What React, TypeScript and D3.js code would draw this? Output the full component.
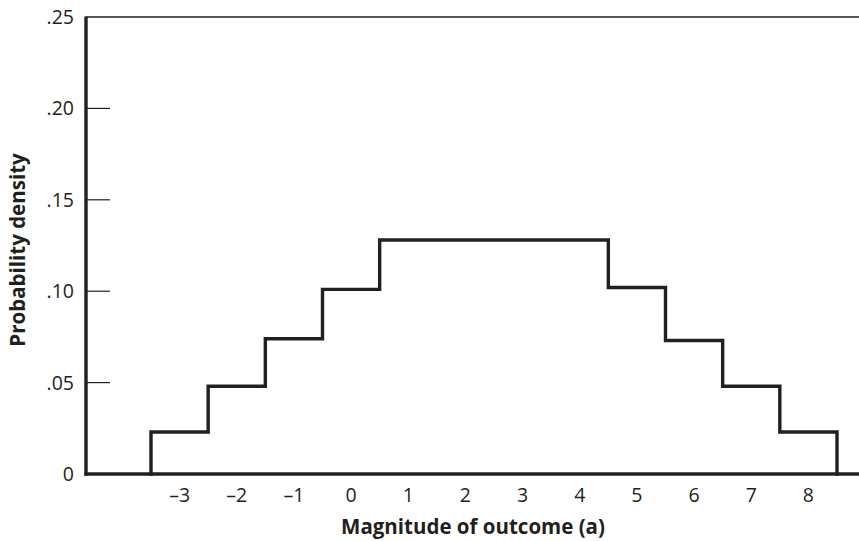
import * as d3 from "d3";

const bins = [-3, -2, -1, 0, 1, 2, 3, 4, 5, 6, 7, 8];
const densities = [0.023, 0.048, 0.074, 0.101, 0.128, 0.128, 0.128, 0.128, 0.102, 0.073, 0.048, 0.023];
const yTicks = [0, 0.05, 0.1, 0.15, 0.2, 0.25];
const yTickLabels = ["0", ".05", ".10", ".15", ".20", ".25"];

const width = 859;
const height = 541;
const axisLeft = 86;
const axisRight = 859;
const ink = "#231f20";
const font = "'Open Sans', 'Noto Sans', sans-serif";

function tickText(v: number) {
  return v < 0 ? `\u2013${Math.abs(v)}` : String(v);
}

export default function App() {
  const x = d3.scaleLinear().domain([-3.5, 8.5]).range([151, 837]);
  const y = d3.scaleLinear().domain([0, 0.25]).range([474, 17]);

  const points: [number, number][] = [
    [bins[0] - 0.5, 0],
    ...bins.map((b, i) => [b - 0.5, densities[i]] as [number, number]),
    [bins[bins.length - 1] + 0.5, densities[densities.length - 1]],
    [bins[bins.length - 1] + 0.5, 0],
  ];
  const step = d3
    .line<[number, number]>()
    .x((d) => x(d[0]))
    .y((d) => y(d[1]))
    .curve(d3.curveStepAfter)(points);

  const y0 = y(0);
  const yTop = y(0.25);

  return (
    <svg width={width} height={height} style={{ position: "absolute", left: 0, top: 0, background: "#fff" }} fontFamily={font}>
      {/* top frame line */}
      <line x1={axisLeft} x2={axisRight} y1={yTop} y2={yTop} stroke={ink} strokeWidth={1.3} />
      {yTicks.slice(1, -1).map((t) => (
        <line key={`yt-${t}`} x1={axisLeft} x2={110} y1={y(t)} y2={y(t)} stroke={ink} strokeWidth={1.2} />
      ))}
      {step ? <path d={step} fill="none" stroke={ink} strokeWidth={3.4} strokeLinejoin="miter" strokeLinecap="square" /> : null}
      <line x1={axisLeft} x2={axisLeft} y1={yTop - 0.5} y2={y0 + 1.7} stroke={ink} strokeWidth={3.4} />
      <line x1={axisLeft - 1.7} x2={axisRight} y1={y0} y2={y0} stroke={ink} strokeWidth={3.4} />

      {yTicks.map((t, i) => (
        <text key={`yl-${t}`} x={74} y={y(t)} dy="0.36em" textAnchor="end" fontSize={19.5} fill={ink}>
          {yTickLabels[i]}
        </text>
      ))}
      {bins.map((b) => (
        <text key={`xl-${b}`} x={x(b)} y={502} textAnchor="middle" fontSize={19.5} fill={ink}>
          {tickText(b)}
        </text>
      ))}

      <text x={473} y={534} textAnchor="middle" fontSize={20.5} fontWeight={700} fill={ink}>
        Magnitude of outcome (a)
      </text>
      <text transform="translate(25, 250) rotate(-90)" textAnchor="middle" fontSize={20.5} fontWeight={700} fill={ink}>
        Probability density
      </text>
    </svg>
  );
}
